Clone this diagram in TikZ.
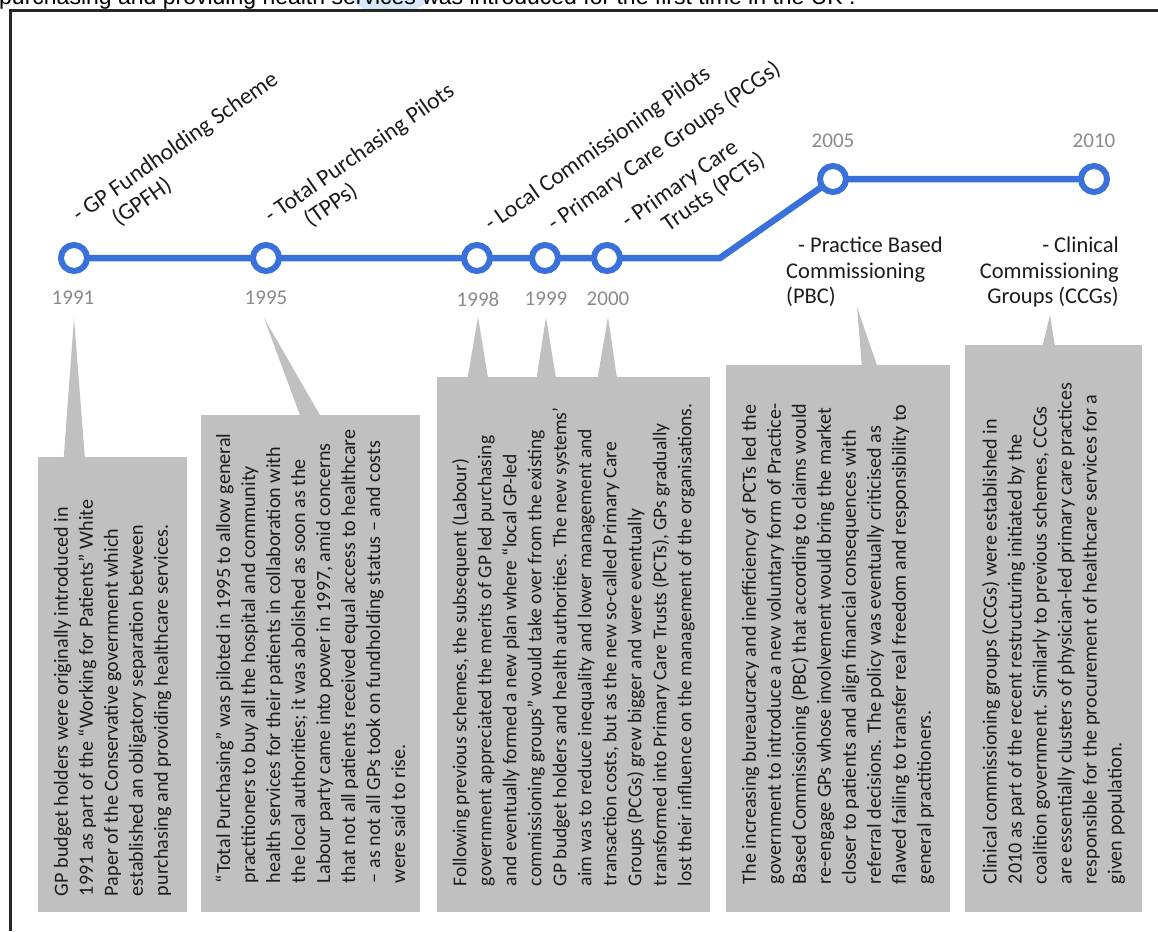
\documentclass[tikz,border=0pt]{standalone}
\usepackage{fontspec}
\setmainfont{Carlito}
\newfontfamily\introfont{Liberation Sans}
\usetikzlibrary{calc}
\definecolor{tlblue}{RGB}{58,112,218}
\definecolor{callgray}{RGB}{192,192,192}
\definecolor{yeargray}{RGB}{138,138,138}
\definecolor{inktext}{RGB}{28,28,28}
\definecolor{hilite}{RGB}{214,232,250}

\begin{document}
\begin{tikzpicture}[x=1pt,y=-1pt,
  milestone/.style={circle, draw=tlblue, fill=white, line width=6pt, minimum size=26pt, inner sep=0pt},
  track/.style={draw=tlblue, line width=6.5pt, line join=round},
  year/.style={text=yeargray, font=\fontsize{21}{21}\selectfont, inner sep=0pt},
  event/.style={text=inktext, font=\fontsize{23.5}{26}\selectfont, inner sep=0pt, rotate=35, anchor=base west},
  plainev/.style={text=inktext, font=\fontsize{22.5}{26}\selectfont, inner sep=0pt},
  callout/.style={fill=callgray, draw=none, inner sep=0pt},
  pointer/.style={fill=callgray, draw=none},
  note/.style={rotate=90, anchor=west, align=left, text=inktext, font=\fontsize{20.1}{25}\selectfont, inner sep=0pt},
]
\useasboundingbox (0,0) rectangle (1158,931);

% partly hidden caption line at the very top
\begin{scope}
  \clip (0,0) rectangle (1158,9.5);
  \fill[hilite] (348,0) -- (432,0) -- (416,9) -- (364,9) -- cycle;
  \node[anchor=base west, inner sep=0pt, font=\introfont\fontsize{23}{23}\selectfont] (intro) at (-1,4.5)
    {purchasing and providing health services was introduced for the first time in the UK .};
\end{scope}

% outer frame
\draw[line width=3pt, black!85] (10,931) -- (10,11) -- (1158,11);

% timeline track
\coordinate (t1991) at (74,258);
\coordinate (t1995) at (266,258);
\coordinate (t1998) at (477,258);
\coordinate (t1999) at (545,258);
\coordinate (t2000) at (607,258);
\coordinate (bend)  at (720,258);
\coordinate (t2005) at (833,179);
\coordinate (t2010) at (1094,179);
\draw[track] (t1991) -- (t1995) -- (t1998) -- (t1999) -- (t2000) -- (bend) -- (t2005) -- (t2010);

\foreach \yr in {1991,1995,1998,1999,2000,2005,2010}
  \node[milestone] (m\yr) at (t\yr) {};

% years
\node[year] (y1991) at (73,298) {1991};
\node[year] (y1995) at (266,298) {1995};
\node[year] (y1998) at (478,299) {1998};
\node[year] (y1999) at (546,299) {1999};
\node[year] (y2000) at (608,299) {2000};
\node[year] (y2005) at (833,141) {2005};
\node[year] (y2010) at (1094,141) {2010};

% slanted event names
\begin{scope}[shift={(79,223)}, rotate=35]
  \node[event] (ev1a) at (0,0) {- GP Fundholding Scheme};
  \node[event] (ev1b) at (30,26) {(GPFH)};
\end{scope}
\begin{scope}[shift={(271,224)}, rotate=35]
  \node[event] (ev2a) at (0,0) {- Total Purchasing Pilots};
  \node[event] (ev2b) at (30,26) {(TPPs)};
\end{scope}
\begin{scope}[shift={(491,232)}, rotate=35]
  \node[event] (ev3) at (0,0) {- Local Commissioning Pilots};
\end{scope}
\begin{scope}[shift={(554,232)}, rotate=35]
  \node[event] (ev4) at (0,0) {- Primary Care Groups (PCGs)};
\end{scope}
\begin{scope}[shift={(628,229)}, rotate=35]
  \node[event] (ev5a) at (0,0) {- Primary Care};
  \node[event] (ev5b) at (31,26) {Trusts (PCTs)};
\end{scope}

% upright event names
\node[plainev, anchor=base west] (ev6a) at (798,252) {- Practice Based};
\node[plainev, anchor=base west] (ev6b) at (786,278) {Commissioning};
\node[plainev, anchor=base west] (ev6c) at (786,303) {(PBC)};
\node[plainev, anchor=base east] (ev7a) at (1119,252) {- Clinical};
\node[plainev, anchor=base east] (ev7b) at (1119,278) {Commissioning};
\node[plainev, anchor=base east] (ev7c) at (1119,303) {Groups (CCGs)};

% callout boxes
\node[callout, minimum width=149, minimum height=455] (b1) at (112.5,684.5) {};
\node[callout, minimum width=219, minimum height=497] (b2) at (310.5,663.5) {};
\node[callout, minimum width=273, minimum height=535] (b3) at (573.5,644.5) {};
\node[callout, minimum width=224, minimum height=547] (b4) at (838,638.5) {};
\node[callout, minimum width=177, minimum height=567] (b5) at (1053.5,628.5) {};

% callout pointers
\coordinate (a1991) at (74,318);
\coordinate (a1995) at (264,318);
\coordinate (a1998) at (478,317);
\coordinate (a1999) at (546,317);
\coordinate (a2000) at (608,317);
\coordinate (a2005) at (857,307);
\coordinate (a2010) at (1050,315);
\fill[pointer] (a1991) -- ($(b1.north west)+(26,0)$) -- ($(b1.north west)+(47,0)$) -- cycle;
\fill[pointer] (a1995) -- ($(b2.north west)+(99,0)$) -- ($(b2.north west)+(119,0)$) -- cycle;
\fill[pointer] (a1998) -- ($(b3.north west)+(31,0)$) -- ($(b3.north west)+(51,0)$) -- cycle;
\fill[pointer] (a1999) -- ($(b3.north west)+(100,0)$) -- ($(b3.north west)+(119,0)$) -- cycle;
\fill[pointer] (a2000) -- ($(b3.north west)+(161,0)$) -- ($(b3.north west)+(180,0)$) -- cycle;
\fill[pointer] (a2005) -- ($(b4.north west)+(136,0)$) -- ($(b4.north west)+(151,0)$) -- cycle;
\fill[pointer] (a2010) -- ($(b5.north west)+(78,0)$) -- ($(b5.north west)+(90,0)$) -- cycle;

% callout texts
\node[note] (n1) at ($(b1.south)+(0,-16)$) {GP budget holders were originally introduced in\\
1991 as part of the “Working for Patients” White\\
Paper of the Conservative government which\\
established an obligatory separation between\\
purchasing and providing healthcare services.};

\node[note] (n2) at ($(b2.south)+(0,-29)$) {“Total Purchasing” was piloted in 1995 to allow general\\
practitioners to buy all the hospital and community\\
health services for their patients in collaboration with\\
the local authorities; it was abolished as soon as the\\
Labour party came into power in 1997, amid concerns\\
that not all patients received equal access to healthcare\\
– as not all GPs took on fundholding status – and costs\\
were said to rise.};

\node[note, font=\fontsize{19.6}{25}\selectfont] (n3) at ($(b3.south)+(0,-26)$) {Following previous schemes, the subsequent (Labour)\\
government appreciated the merits of GP led purchasing\\
and eventually formed a new plan where “local GP-led\\
commissioning groups” would take over from the existing\\
GP budget holders and health authorities. The new systems’\\
aim was to reduce inequality and lower management and\\
transaction costs, but as the new so-called Primary Care\\
Groups (PCGs) grew bigger and were eventually\\
transformed into Primary Care Trusts (PCTs), GPs gradually\\
lost their influence on the management of the organisations.};

\node[note] (n4) at ($(b4.south)+(0,-28)$) {The increasing bureaucracy and inefficiency of PCTs led the\\
government to introduce a new voluntary form of Practice-\\
Based Commissioning (PBC) that according to claims would\\
re-engage GPs whose involvement would bring the market\\
closer to patients and align financial consequences with\\
referral decisions. The policy was eventually criticised as\\
flawed failing to transfer real freedom and responsibility to\\
general practitioners.};

\node[note] (n5) at ($(b5.south)+(0,-28)$) {Clinical commissioning groups (CCGs) were established in\\
2010 as part of the recent restructuring initiated by the\\
coalition government. Similarly to previous schemes, CCGs\\
are essentially clusters of physician-led primary care practices\\
responsible for the procurement of healthcare services for a\\
given population.};

\end{tikzpicture}
\end{document}
